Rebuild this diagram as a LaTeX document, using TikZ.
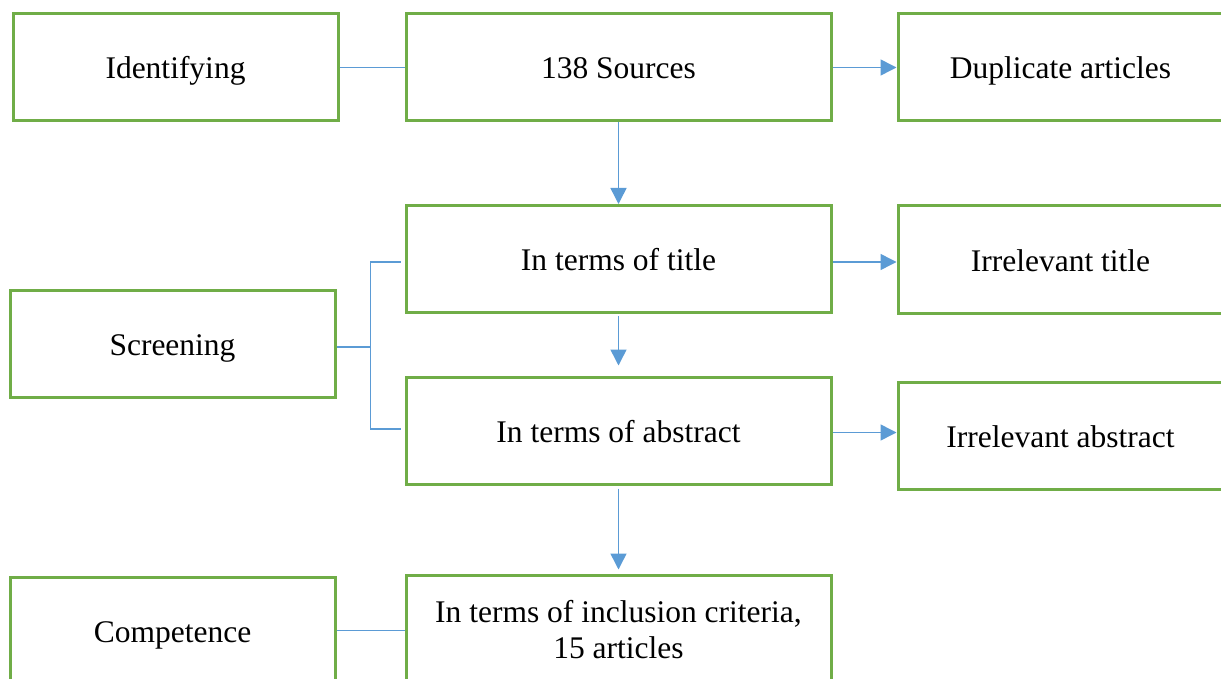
\documentclass[tikz,border=0pt]{standalone}
\usepackage{fontspec}
\setmainfont{Liberation Serif}
\usetikzlibrary{arrows.meta,calc}
\definecolor{boxgreen}{HTML}{70AD47}
\definecolor{linkblue}{HTML}{5B9BD5}
\begin{document}
\begin{tikzpicture}[x=1pt,y=-1pt,
 box/.style={draw=boxgreen,line width=3pt,minimum height=107pt,inner sep=0pt,align=center,font=\fontsize{31.5}{36}\selectfont},
 onebox/.style={box,text height=29pt,text depth=6pt},
 sidebox/.style={onebox,minimum width=325pt},
 midbox/.style={onebox,minimum width=425pt},
 link/.style={draw=linkblue,line width=1.5pt},
 arr/.style={link,-{Triangle[length=16pt,width=16pt]}}]
\useasboundingbox (0,0) rectangle (1221,679);
\clip (0,0) rectangle (1221,679);
\node[sidebox] (id) at (175.5,67.5) {Identifying};
\node[midbox] (src) at (618.5,67.5) {138 Sources};
\node[sidebox] (dup) at (1060.5,67.5) {Duplicate articles};
\node[midbox] (title) at (618.5,259) {In terms of title};
\node[sidebox] (irt) at (1060.5,259.5) {Irrelevant title};
\node[sidebox] (scr) at (172.5,344) {Screening};
\node[midbox] (abs) at (618.5,430.5) {In terms of abstract};
\node[sidebox] (ira) at (1060.5,435.5) {Irrelevant abstract};
\node[sidebox] (comp) at (172.5,630.5) {Competence};
\node[box,minimum width=425pt] (inc) at (618.5,628.5) {\rule{0pt}{25pt}In terms of inclusion criteria,\\15 articles};
\draw[link] (id.east) -- (src.west);
\draw[arr] (src.east) -- (dup.west);
\draw[arr] (src.south) -- (title.north);
\draw[arr] ($(title.east)+(0,3)$) -- ($(irt.west)+(0,2.5)$);
\draw[arr] ($(title.south)+(0,2)$) -- ($(abs.north)+(0,-10)$);
\draw[arr] ($(abs.east)+(0,2)$) -- ($(ira.west)+(0,-3)$);
\draw[arr] ($(abs.south)+(0,3)$) -- ($(inc.north)+(0,-4)$);
\coordinate (bt) at ($(title.west)+(-4,3)$);
\coordinate (bb) at ($(abs.west)+(-4,-1.5)$);
\coordinate (bj) at ($(scr.east)+(34,3)$);
\draw[link] ($(scr.east)+(0,3)$) -- (bj);
\draw[link] (bt) -| (bj) |- (bb);
\draw[link] (comp.east) -- (inc.west |- comp.east);
\end{tikzpicture}
\end{document}
